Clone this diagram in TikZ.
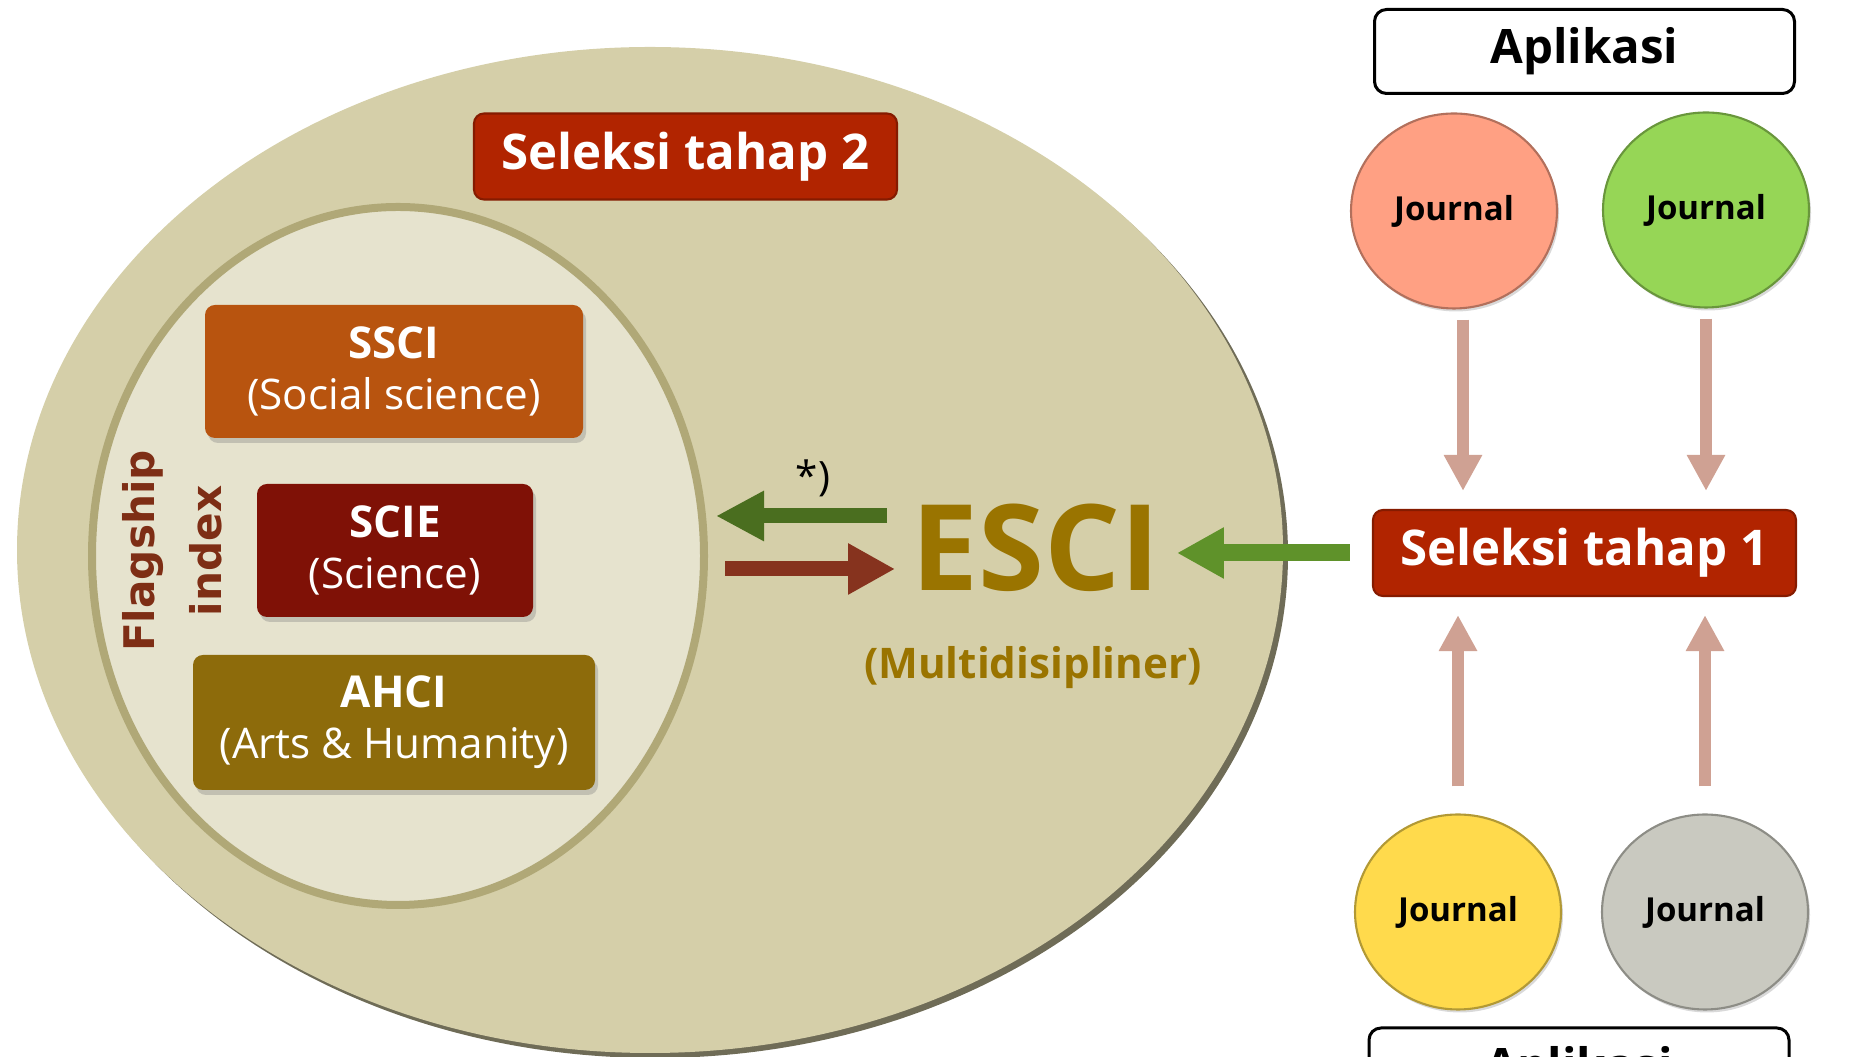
\documentclass[tikz,border=0pt]{standalone}
\usepackage{fontspec}
\setmainfont{Open Sans}
\newfontfamily\flagfont{DejaVu Sans}
\usetikzlibrary{shapes.geometric,arrows.meta,shadows}

\begin{document}
\begin{tikzpicture}[
    box/.style={rectangle, rounded corners=0.1cm, inner sep=0, text=white, align=center},
    wos/.style={box, minimum height=1.33cm, font=\fontsize{12}{14.5}\selectfont,
        drop shadow={shadow xshift=0.03cm, shadow yshift=-0.05cm, opacity=0.35}},
    seleksi/.style={box, fill=selred, draw=selred!75!black, line width=0.6pt,
        minimum width=4.23cm, minimum height=0.86cm, font=\fontsize{14}{16}\selectfont\bfseries},
    aplikasi/.style={box, text=black, draw=black, line width=0.03cm, rounded corners=0.12cm,
        minimum width=4.2cm, minimum height=0.84cm, font=\fontsize{13.5}{16}\selectfont\bfseries},
    journal/.style={ellipse, minimum width=2.06cm, minimum height=1.95cm, inner sep=0,
        line width=0.6pt, font=\fontsize{9.4}{11}\selectfont\bfseries,
        drop shadow={shadow xshift=0.02cm, shadow yshift=-0.03cm, opacity=0.3}},
    pinkarrow/.style={color=pinkish, line width=0.12cm, -{Triangle[length=0.36cm, width=0.36cm]}},
]
    % Define colors
    \definecolor{outerfill}{HTML}{D5CFA9}
    \definecolor{outerrim}{HTML}{6F6C57}
    \definecolor{innerfill}{HTML}{E6E3CE}
    \definecolor{innerrim}{HTML}{B0A877}
    \definecolor{selred}{HTML}{B12400}
    \definecolor{ssciorange}{HTML}{B8540F}
    \definecolor{sciered}{HTML}{7F1106}
    \definecolor{ahcigold}{HTML}{8D6B0B}
    \definecolor{escigold}{HTML}{9A7400}
    \definecolor{flagbrown}{HTML}{7E2E15}
    \definecolor{darkgreen}{HTML}{4A6E1F}
    \definecolor{lightgreen}{HTML}{5F922A}
    \definecolor{rustred}{HTML}{86331E}
    \definecolor{pinkish}{HTML}{CFA193}
    \definecolor{salmon}{HTML}{FFA083}
    \definecolor{leaf}{HTML}{96D656}
    \definecolor{sun}{HTML}{FFDA4C}
    \definecolor{stone}{HTML}{C9C9C0}

    \useasboundingbox (0,0) rectangle (18.56,10.57);
    \clip (0,0) rectangle (18.56,10.57);

    % Outer ellipse (Web of Science core)
    \fill[outerrim] (6.55,5.02) ellipse [x radius=6.33, y radius=5.03];
    \fill[outerfill] (6.50,5.07) ellipse [x radius=6.33, y radius=5.03];

    % Inner ellipse with flagship indexes
    \node[ellipse, fill=innerfill, draw=innerrim, line width=0.08cm, inner sep=0,
        minimum width=6.12cm, minimum height=6.98cm] (flag) at (3.98,5.01) {};

    \node[seleksi] (sel2) at (6.855,9.005) {Seleksi tahap 2};

    \node[wos, fill=ssciorange, minimum width=3.78cm] (ssci) at (3.94,6.855)
        {{\fontsize{12.5}{14.5}\selectfont\bfseries SSCI}\\(Social science)};
    \node[wos, fill=sciered, minimum width=2.76cm] (scie) at (3.95,5.065)
        {{\fontsize{12.5}{14.5}\selectfont\bfseries SCIE}\\(Science)};
    \node[wos, fill=ahcigold, minimum width=4.02cm, minimum height=1.35cm] (ahci) at (3.94,3.345)
        {{\fontsize{12.5}{14.5}\selectfont\bfseries AHCI}\\(Arts \& Humanity)};

    \node[rotate=90, text=flagbrown, align=center,
        font=\flagfont\bfseries\fontsize{12}{19}\selectfont] (flagtxt) at (1.72,5.06) {Flagship\\index};

    % ESCI
    \node[text=escigold, font=\fontsize{34}{40}\selectfont\bfseries, inner xsep=0.16cm, inner ysep=0]
        (esci) at (10.36,5.095) {ESCI};
    \node[text=escigold, font=\fontsize{12}{14}\selectfont\bfseries] (multi) at (10.33,3.895) {(Multidisipliner)};
    \node[font=\fontsize{11.5}{13}\selectfont] (note) at (8.13,5.79) {*)};

    \draw[color=darkgreen, line width=0.15cm, -{Triangle[length=0.48cm, width=0.47cm]},
        shorten <=0.08cm, shorten >=0.08cm]
        ([yshift=0.315cm]esci.west) -- ([yshift=0.315cm]esci.west -| flag.east);
    \draw[color=rustred, line width=0.15cm, -{Triangle[length=0.47cm, width=0.48cm]},
        shorten <=0.17cm]
        ([yshift=-0.215cm]esci.west -| flag.east) -- ([yshift=-0.215cm]esci.west);

    % Right side: journals and first selection
    \node[aplikasi] (apl1) at (15.845,10.055) {Aplikasi};
    \node[aplikasi] (apl2) at (15.79,-0.13) {Aplikasi};
    \node[seleksi] (sel1) at (15.845,5.04) {Seleksi tahap 1};

    \node[journal, fill=salmon, draw=salmon!70!black] (j1) at (14.54,8.46) {Journal};
    \node[journal, fill=leaf, draw=leaf!70!black] (j2) at (17.06,8.47) {Journal};
    \node[journal, fill=sun, draw=sun!70!black] (j3) at (14.58,1.45) {Journal};
    \node[journal, fill=stone, draw=stone!70!black] (j4) at (17.05,1.45) {Journal};

    \draw[pinkarrow, shorten <=0.10cm, shorten >=0.18cm]
        ([xshift=0.09cm]j1.south) -- ([xshift=0.09cm]j1.south |- sel1.north);
    \draw[pinkarrow, shorten <=0.10cm, shorten >=0.18cm] (j2.south) -- (j2.south |- sel1.north);
    \draw[pinkarrow, shorten <=0.27cm, shorten >=0.18cm] (j3.north) -- (j3.north |- sel1.south);
    \draw[pinkarrow, shorten <=0.27cm, shorten >=0.18cm] (j4.north) -- (j4.north |- sel1.south);

    \draw[color=lightgreen, line width=0.17cm, -{Triangle[length=0.47cm, width=0.48cm]},
        shorten <=0.22cm]
        (sel1.west) -- (sel1.west -| esci.east);
\end{tikzpicture}
\end{document}
